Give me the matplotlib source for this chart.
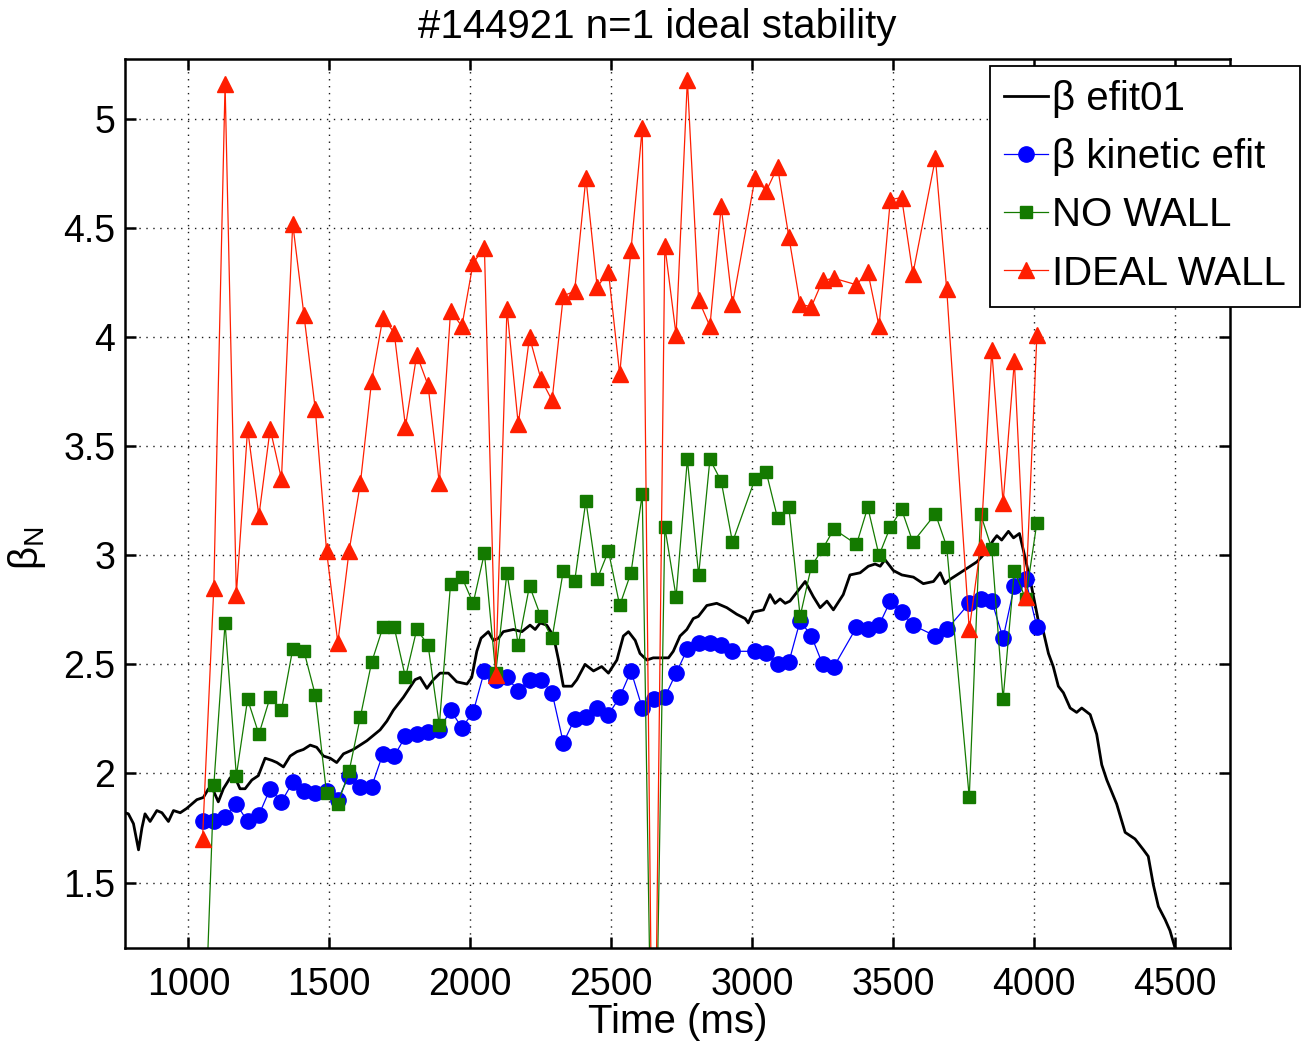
"""
Recreates the "#144921 n=1 ideal stability" beta_N vs time plot
(MATLAB-style figure: efit01 trace plus kinetic efit / no-wall / ideal-wall limits).
"""

import numpy as np
import matplotlib
matplotlib.use('Agg')
import matplotlib.pyplot as plt
from matplotlib.ticker import FormatStrFormatter

# --- fonts: Helvetica-like look, TeX-ish beta with plain font ---
plt.rcParams['font.family'] = ['Liberation Sans', 'DejaVu Sans']
plt.rcParams['mathtext.fontset'] = 'custom'
plt.rcParams['mathtext.rm'] = 'Liberation Sans'
plt.rcParams['mathtext.it'] = 'Liberation Sans:italic'
plt.rcParams['mathtext.default'] = 'regular'

# --- efit01 beta_N trace (ms, beta_N) ---
efit_time = [760, 775, 787, 805, 823, 835, 846, 864, 888, 906, 929, 947, 971, 994,
             1030, 1053, 1071, 1089, 1106, 1124, 1148, 1166, 1183, 1201, 1225, 1248,
             1272, 1296, 1314, 1337, 1361, 1385, 1408, 1432, 1455, 1479, 1503, 1526,
             1550, 1585, 1633, 1680, 1704, 1727, 1763, 1804, 1822, 1846, 1869, 1893,
             1922, 1952, 1988, 2005, 2023, 2038, 2064, 2082, 2100, 2117, 2153, 2183,
             2212, 2230, 2248, 2271, 2295, 2313, 2330, 2360, 2378, 2407, 2437, 2466,
             2490, 2520, 2543, 2561, 2585, 2602, 2626, 2649, 2679, 2703, 2720, 2744,
             2768, 2791, 2809, 2839, 2874, 2910, 2945, 2975, 2986, 3004, 3040, 3063,
             3081, 3099, 3117, 3134, 3146, 3188, 3217, 3241, 3265, 3288, 3323, 3347,
             3383, 3412, 3436, 3454, 3471, 3501, 3531, 3572, 3607, 3643, 3667, 3684,
             3702, 3738, 3773, 3797, 3826, 3856, 3868, 3885, 3909, 3927, 3948, 3968,
             3992, 4015, 4033, 4051, 4068, 4086, 4104, 4128, 4151, 4169, 4199, 4222,
             4240, 4258, 4293, 4323, 4358, 4388, 4405, 4423, 4441, 4465, 4482, 4500,
             4520]
efit_beta = [1.84, 1.82, 1.815, 1.77, 1.65, 1.75, 1.815, 1.78, 1.83, 1.82, 1.78, 1.83, 1.82, 1.84,
             1.88, 1.89, 1.93, 1.92, 1.87, 1.93, 1.98, 1.98, 1.93, 1.93, 1.97, 1.99,
             2.07, 2.06, 2.05, 2.03, 2.08, 2.10, 2.11, 2.13, 2.12, 2.08, 2.07, 2.05,
             2.09, 2.11, 2.15, 2.20, 2.24, 2.29, 2.35, 2.43, 2.44, 2.39, 2.43, 2.46,
             2.46, 2.42, 2.41, 2.44, 2.56, 2.62, 2.65, 2.61, 2.62, 2.65, 2.66, 2.65,
             2.68, 2.66, 2.69, 2.68, 2.63, 2.52, 2.40, 2.40, 2.43, 2.50, 2.47, 2.49,
             2.46, 2.52, 2.63, 2.65, 2.61, 2.55, 2.52, 2.53, 2.53, 2.53, 2.56, 2.63,
             2.66, 2.71, 2.72, 2.77, 2.78, 2.76, 2.73, 2.71, 2.69, 2.74, 2.75, 2.82,
             2.78, 2.80, 2.78, 2.79, 2.81, 2.88, 2.81, 2.76, 2.79, 2.75, 2.82, 2.91,
             2.92, 2.95, 2.96, 2.95, 2.98, 2.93, 2.91, 2.90, 2.87, 2.88, 2.92, 2.87,
             2.89, 2.92, 2.95, 2.97, 3.01, 3.07, 3.09, 3.07, 3.11, 3.08, 3.10, 2.99,
             2.85, 2.70, 2.65, 2.55, 2.49, 2.40, 2.37, 2.30, 2.28, 2.30, 2.27, 2.18,
             2.04, 1.97, 1.86, 1.73, 1.70, 1.65, 1.62, 1.49, 1.39, 1.33, 1.28, 1.20,
             1.12]

# --- stability analysis time slices (ms) ---
slice_time = [1050, 1090, 1130, 1170, 1210, 1250, 1290, 1330, 1370, 1410,
              1450, 1490, 1530, 1570, 1610, 1650, 1690, 1730, 1770, 1810,
              1850, 1890, 1930, 1970, 2010, 2050, 2090, 2130, 2170, 2210,
              2250, 2290, 2330, 2370, 2410, 2450, 2490, 2530, 2570, 2610,
              2650, 2690, 2730, 2770, 2810, 2850, 2890, 2930, 3010, 3050,
              3090, 3130, 3170, 3210, 3250, 3290, 3370, 3410, 3450, 3490,
              3530, 3570, 3650, 3690, 3770, 3810, 3850, 3890, 3930, 3970,
              4010]

kinetic_beta = [1.78, 1.78, 1.80, 1.86, 1.78, 1.81, 1.93, 1.87, 1.96, 1.92,
                1.91, 1.92, 1.88, 1.99, 1.94, 1.94, 2.09, 2.08, 2.17, 2.18,
                2.19, 2.20, 2.29, 2.21, 2.28, 2.47, 2.43, 2.44, 2.38, 2.43,
                2.43, 2.37, 2.14, 2.25, 2.26, 2.30, 2.27, 2.35, 2.47, 2.30,
                2.34, 2.35, 2.46, 2.57, 2.60, 2.60, 2.59, 2.56, 2.56, 2.55,
                2.50, 2.51, 2.70, 2.63, 2.50, 2.49, 2.67, 2.66, 2.68, 2.79,
                2.74, 2.68, 2.63, 2.66, 2.78, 2.80, 2.79, 2.62, 2.86, 2.89,
                2.67]

no_wall = [0.50, 1.945, 2.69, 1.99, 2.34, 2.18, 2.35, 2.29, 2.57, 2.56,
           2.36, 1.91, 1.86, 2.01, 2.26, 2.51, 2.67, 2.67, 2.44, 2.66,
           2.59, 2.22, 2.87, 2.90, 2.78, 3.01, 2.46, 2.92, 2.59, 2.86,
           2.72, 2.62, 2.93, 2.88, 3.25, 2.89, 3.02, 2.77, 2.92, 3.28,
           0.00, 3.13, 2.81, 3.44, 2.91, 3.44, 3.34, 3.06, 3.35, 3.38,
           3.17, 3.22, 2.72, 2.95, 3.03, 3.12, 3.05, 3.22, 3.00, 3.13,
           3.21, 3.06, 3.19, 3.04, 1.89, 3.19, 3.03, 2.34, 2.93, 2.80,
           3.15]

ideal_wall = [1.70, 2.85, 5.16, 2.82, 3.58, 3.18, 3.58, 3.35, 4.52, 4.10,
              3.67, 3.02, 2.60, 3.02, 3.33, 3.80, 4.09, 4.02, 3.59, 3.92,
              3.78, 3.33, 4.12, 4.05, 4.34, 4.41, 2.45, 4.13, 3.60, 4.00,
              3.81, 3.71, 4.19, 4.21, 4.73, 4.23, 4.30, 3.83, 4.40, 4.96,
              0.00, 4.42, 4.01, 5.18, 4.17, 4.05, 4.60, 4.15, 4.73, 4.67,
              4.78, 4.46, 4.15, 4.14, 4.26, 4.27, 4.24, 4.30, 4.05, 4.63,
              4.64, 4.29, 4.82, 4.22, 2.66, 3.04, 3.94, 3.24, 3.89, 2.81,
              4.01]

FS = 27       # tick labels
FS_BIG = 29   # title, axis labels, legend
BLUE = '#0000ff'
GREEN = '#147a00'
RED = '#ff1e00'

W, H = 1301, 1047
fig = plt.figure(figsize=(W / 100, H / 100), dpi=100)
ax = fig.add_axes([125 / W, 1 - 948 / H, (1230 - 125) / W, (948 - 59) / H])

# Data
ax.plot(efit_time, efit_beta, color='black', lw=2.0, label='β efit01')
ax.plot(slice_time, kinetic_beta, '-o', color=BLUE, lw=0.9, ms=11,
        mfc=BLUE, mec=BLUE, label='β kinetic efit')
ax.plot(slice_time, no_wall, '-s', color=GREEN, lw=0.9, ms=9,
        mfc=GREEN, mec=GREEN, label='NO WALL')
ax.plot(slice_time, ideal_wall, '-^', color=RED, lw=0.9, ms=11,
        mfc=RED, mec=RED, label='IDEAL WALL')

# Axes styling (MATLAB look: boxed, inward ticks, dotted grid)
ax.set_xlim(775, 4695)
ax.set_ylim(1.2, 5.275)
ax.set_xticks(np.arange(1000, 4501, 500))
ax.set_yticks(np.arange(1.5, 5.01, 0.5))
ax.yaxis.set_major_formatter(FormatStrFormatter('%g'))
ax.tick_params(direction='in', top=True, right=True, length=8, width=1.8,
               labelsize=FS)
ax.tick_params(axis='x', pad=14)
ax.tick_params(axis='y', pad=7)
for sp in ax.spines.values():
    sp.set_linewidth(1.8)
ax.grid(True, color='0.1', linestyle=(0, (1, 4)), linewidth=1.0)
ax.set_axisbelow(True)

fig.text(657 / W, 1 - 38 / H, '#144921 n=1 ideal stability',
         fontsize=FS_BIG, ha='center', va='baseline')
ax.set_xlabel('Time (ms)', fontsize=FS_BIG, labelpad=0)
ax.set_ylabel(r'$\beta_N$', fontsize=FS_BIG)
ax.yaxis.set_label_coords(-0.07, 0.45)

leg = ax.legend(loc='upper left', bbox_to_anchor=(990 / W, 1 - 66 / H),
                bbox_transform=fig.transFigure, borderaxespad=0,
                fontsize=FS_BIG, frameon=True, fancybox=False, framealpha=1,
                edgecolor='black', handlelength=1.1, handletextpad=0.1,
                labelspacing=0.5, borderpad=0.35)
leg.get_frame().set_linewidth(1.3)

fig.savefig('out.png', dpi=100, facecolor='white')
